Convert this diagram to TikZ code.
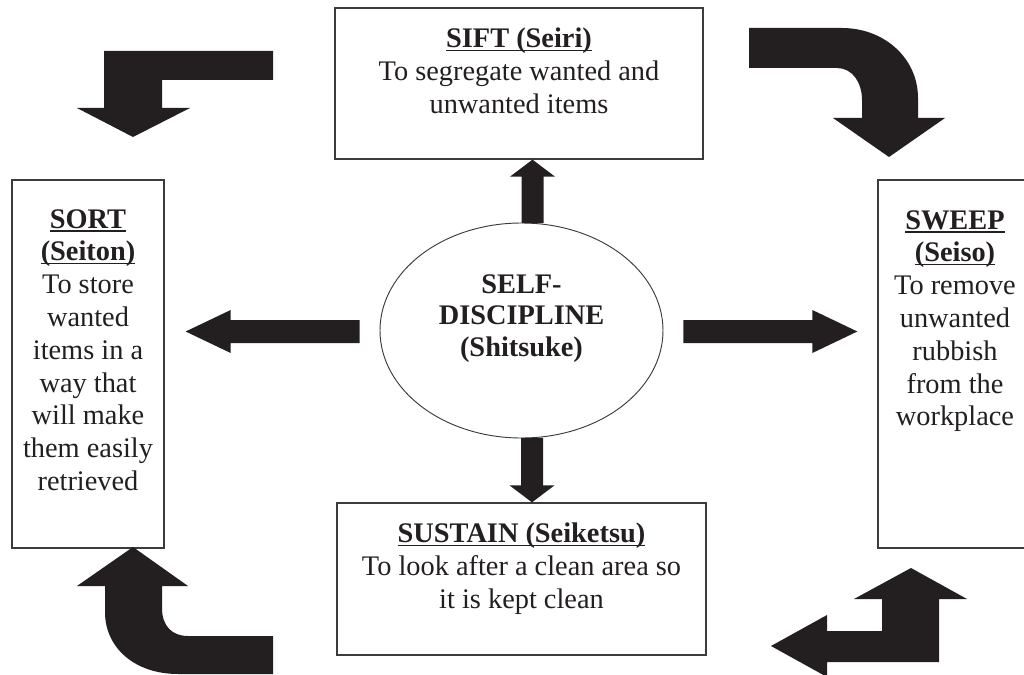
\documentclass[tikz,border=0pt]{standalone}
\usepackage{fontspec}
\setmainfont{Liberation Serif}
\usetikzlibrary{shapes.geometric,calc}
\definecolor{ink}{HTML}{231F20}
\definecolor{frame}{HTML}{3C3C3C}
% bold heading with a close, thin underline
\newcommand\hdr[1]{\setbox0\hbox{\bfseries #1}\rlap{\rule[-3pt]{\wd0}{0.9pt}}\box0}

\begin{document}
\begin{tikzpicture}[x=0.03cm,y=-0.03cm,
  stage/.style={rectangle, draw=frame, line width=1.1pt, fill=white, inner sep=0pt},
  caption/.style={anchor=north, inner sep=0pt, align=center, text=ink,
                  font=\fontsize{24.2}{28}\selectfont},
  blockarrow/.style={fill=ink}
]
\useasboundingbox (0,0) rectangle (1024,675);
\clip (0,0) rectangle (1024,675);
\fill[white] (0,0) rectangle (1024,675);

% the five stages
\node[stage, minimum width=368*0.03cm, minimum height=151*0.03cm] (sift) at (519,83.5) {};
\node[stage, minimum width=152*0.03cm, minimum height=368*0.03cm] (sort) at (88,364) {};
\node[stage, minimum width=154*0.03cm, minimum height=368*0.03cm] (sweep) at (955,364) {};
\node[stage, minimum width=369*0.03cm, minimum height=152*0.03cm] (sustain) at (521.5,579) {};
\node[ellipse, draw=frame, line width=0.8pt, fill=white, inner sep=0pt,
      minimum width=283*0.03cm, minimum height=215*0.03cm] (core) at (521.5,330.5) {};

\node[caption] (sifttext) at (519,28)
  {\hdr{SIFT (Seiri)}\\To segregate wanted and\\unwanted items};
\node[caption] (sorttext) at (88,209)
  {\hdr{SORT}\\\hdr{(Seiton)}\\To store\\wanted\\items in a\\way that\\will make\\them easily\\retrieved};
\node[caption] (sweeptext) at (955,210)
  {\hdr{SWEEP}\\\hdr{(Seiso)}\\To remove\\unwanted\\rubbish\\from the\\workplace};
\node[caption] (sustaintext) at (521.5,523)
  {\hdr{SUSTAIN (Seiketsu)}\\To look after a clean area so\\it is kept clean};
\node[inner sep=0pt, align=center, text=ink,
      font=\fontsize{24.2}{27.2}\selectfont\bfseries] (coretext) at (521.5,318.5)
  {SELF-\\DISCIPLINE\\(Shitsuke)};

% block arrows from the centre to each stage
\coordinate (upfoot) at ($(core.north)+(11,0.5)$);
\coordinate (uptip) at (upfoot |- sift.south);
\fill[blockarrow] ($(upfoot)+(-11,0)$) -- ($(uptip)+(-11,17)$) -- ($(uptip)+(-22.5,17)$) -- (uptip)
  -- ($(uptip)+(22.5,17)$) -- ($(uptip)+(11,17)$) -- ($(upfoot)+(11,0)$) -- cycle;

\coordinate (downfoot) at ($(core.south)+(10.5,-0.5)$);
\coordinate (downtip) at (downfoot |- sustain.north);
\fill[blockarrow] ($(downfoot)+(-11,0)$) -- ($(downtip)+(-11,-17)$) -- ($(downtip)+(-22.5,-17)$) -- (downtip)
  -- ($(downtip)+(22.5,-17)$) -- ($(downtip)+(11,-17)$) -- ($(downfoot)+(11,0)$) -- cycle;

\coordinate (leftfoot) at ($(core.west)+(-20,1)$);
\coordinate (lefttip) at ($(sort.east |- leftfoot)+(21,0)$);
\fill[blockarrow] ($(leftfoot)+(0,-11.5)$) -- ($(lefttip)+(45,-11.5)$) -- ($(lefttip)+(45,-21.5)$) -- (lefttip)
  -- ($(lefttip)+(45,21.5)$) -- ($(lefttip)+(45,11.5)$) -- ($(leftfoot)+(0,11.5)$) -- cycle;

\coordinate (rightfoot) at ($(core.east)+(20,1)$);
\coordinate (righttip) at ($(sweep.west |- rightfoot)+(-20,0)$);
\fill[blockarrow] ($(rightfoot)+(0,-11.5)$) -- ($(righttip)+(-45,-11.5)$) -- ($(righttip)+(-45,-21.5)$) -- (righttip)
  -- ($(righttip)+(-45,21.5)$) -- ($(righttip)+(-45,11.5)$) -- ($(rightfoot)+(0,11.5)$) -- cycle;

% cycle arrows in the corners
\fill[blockarrow] (273,51) -- (104,51) -- (104,108) -- (77,108) -- (133,137) -- (190,108)
  -- (162,108) -- (162,80) -- (273,80) -- cycle;
\fill[blockarrow] (749,28) -- (842,28) .. controls (884,28) and (918,58) .. (918,98)
  -- (918,118) -- (945,118) -- (889,157) -- (833,118) -- (862,118) -- (862,100)
  .. controls (862,82) and (852,68) .. (837,68) -- (749,68) -- cycle;
\fill[blockarrow] (133,547) -- (188,586) -- (162,586) -- (162,608)
  .. controls (162,626) and (172,636) .. (188,636) -- (273,636) -- (273,674) -- (178,674)
  .. controls (135,674) and (105,648) .. (105,612) -- (105,586) -- (77,586) -- cycle;
\fill[blockarrow] (911,568) -- (967,599) -- (939,599) -- (939,662) -- (827,662) -- (827,677)
  -- (771,646) -- (827,615) -- (827,631) -- (882,631) -- (882,599) -- (854,599) -- cycle;
\end{tikzpicture}
\end{document}
